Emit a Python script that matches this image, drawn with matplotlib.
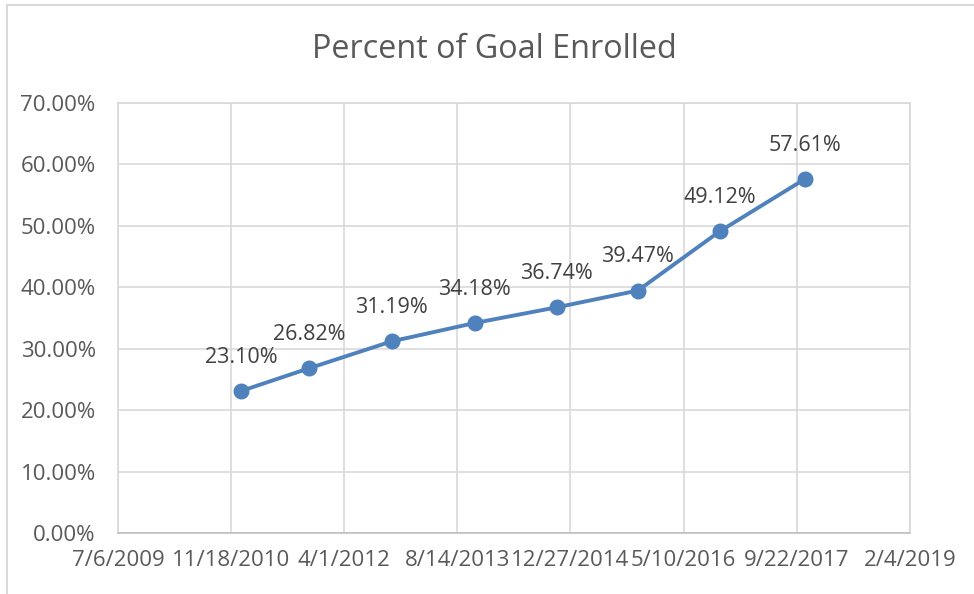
import datetime as dt

import matplotlib
matplotlib.use('Agg')
import matplotlib.pyplot as plt
import matplotlib.dates as mdates
from matplotlib.lines import Line2D

# data
dates = ['2010-12-31', '2011-10-29', '2012-10-27', '2013-10-29',
         '2014-10-28', '2015-10-21', '2016-10-17', '2017-10-27']
values = [23.10, 26.82, 31.19, 34.18, 36.74, 39.47, 49.12, 57.61]
axis_start = '2009-07-06'
axis_end = '2019-02-04'
tick_step_days = 500
y_ticks = [0, 10, 20, 30, 40, 50, 60, 70]

plt.rcParams['font.family'] = ['Open Sans', 'DejaVu Sans']

x = [dt.datetime.strptime(d, '%Y-%m-%d') for d in dates]
y = [v / 100 for v in values]
x0 = dt.datetime.strptime(axis_start, '%Y-%m-%d')
x1 = dt.datetime.strptime(axis_end, '%Y-%m-%d')

fig = plt.figure(figsize=(9.74, 5.94), dpi=100)
ax = fig.add_axes([0.1211, 0.1027, 0.8131, 0.7239])

grid_col = '#D9D9D9'
line_col = '#4F81BD'
text_col = '#595959'

ax.plot(x, y, color=line_col, linewidth=2.8, marker='o', markersize=10.5,
        zorder=3)
for xi, yi, v in zip(x, y, values):
    ax.annotate('%.2f%%' % v, (xi, yi), xytext=(0, 34), textcoords='offset pixels',
                ha='center', va='center', fontsize=15.5, color='#404040')

ticks = []
t = x0
while t <= x1:
    ticks.append(t)
    t = t + dt.timedelta(days=tick_step_days)
ax.set_xlim(mdates.date2num(x0), mdates.date2num(x1))
ax.set_xticks([mdates.date2num(t) for t in ticks])
ax.set_xticklabels(['%d/%d/%d' % (t.month, t.day, t.year) for t in ticks])

ax.set_ylim(0, 0.7)
ax.set_yticks([v / 100 for v in y_ticks])
ax.set_yticklabels(['%.2f%%' % v for v in y_ticks])

ax.grid(True, color=grid_col, linewidth=1.2)
ax.set_axisbelow(True)
for s in ax.spines.values():
    s.set_color(grid_col)
    s.set_linewidth(1.2)
ax.spines['bottom'].set_color('#BFBFBF')
ax.tick_params(axis='both', length=0, labelsize=16, labelcolor=text_col)
ax.tick_params(axis='y', pad=16)
ax.tick_params(axis='x', pad=12)

fig.text(0.508, 0.916, 'Percent of Goal Enrolled', ha='center', va='center',
         fontsize=23.3, color=text_col)

# chart area border (top and left visible)
fig.add_artist(Line2D([7 / 974, 973 / 974], [1 - 5 / 594, 1 - 5 / 594],
                      transform=fig.transFigure, color=grid_col, linewidth=1.5))
fig.add_artist(Line2D([7 / 974, 7 / 974], [0, 1 - 5 / 594],
                      transform=fig.transFigure, color=grid_col, linewidth=1.5))

plt.savefig('out.png', dpi=100)
